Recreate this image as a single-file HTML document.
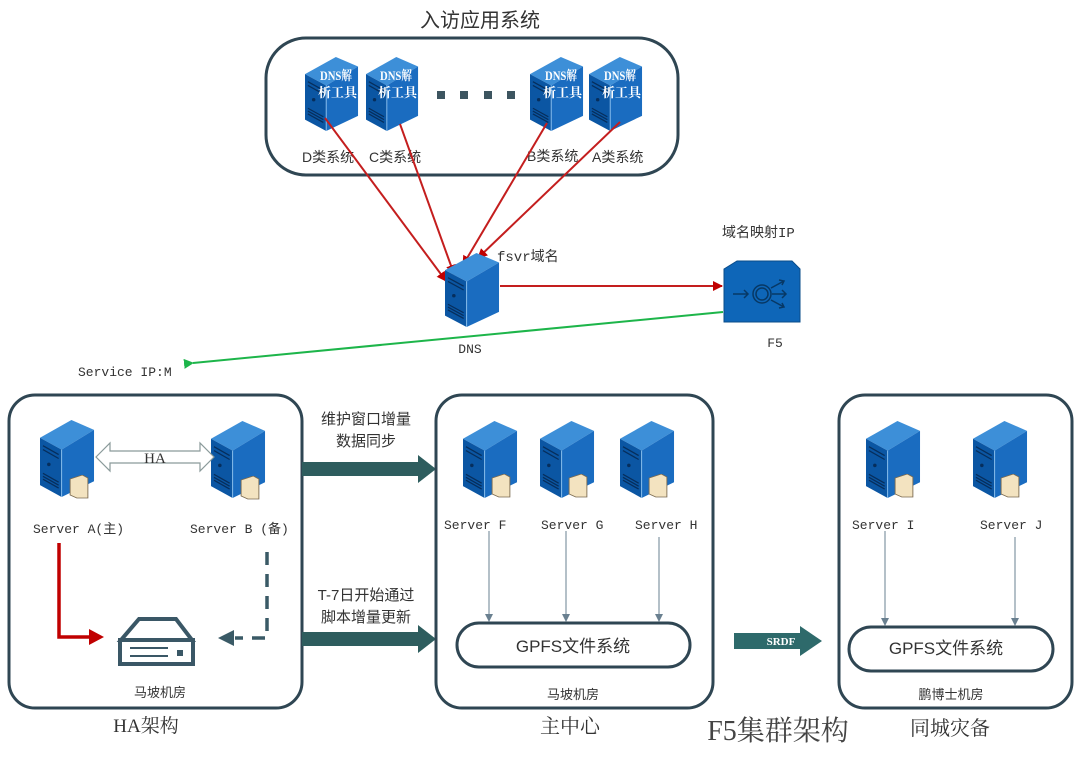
<!DOCTYPE html>
<html><head><meta charset="utf-8"><style>
body{margin:0;background:#fff;}
svg text{font-family:"Liberation Serif","Noto Serif CJK SC",serif;fill:#333;}
svg text.m{font-family:"Liberation Mono","Noto Sans CJK SC",monospace;}
svg text.s{font-family:"Liberation Sans","Noto Sans CJK SC",sans-serif;}
svg text.w{fill:#fff;font-weight:bold;}
</style></head><body>
<svg width="1080" height="762" viewBox="0 0 1080 762" xmlns="http://www.w3.org/2000/svg">
<defs>
<symbol id="srv" viewBox="0 0 56 78" preserveAspectRatio="none">
<polygon points="0,18 32,0 55,10 22,30" fill="#3d8fd8"/>
<polygon points="0,18 22,30 22,78 0,66" fill="#0b56a3"/>
<polygon points="22,30 55,10 55,62 22,78" fill="#1a6cc0"/>
<line x1="22" y1="30" x2="22" y2="78" stroke="#8cc0ee" stroke-width="1"/>
<path d="M3,26 L19,35 M3,30 L19,39 M3,54 L19,63 M3,57 L19,66 M3,60 L19,69" stroke="#062e5c" stroke-width="1.3"/>
<circle cx="9" cy="45" r="1.8" fill="#062e5c"/>
</symbol>
<symbol id="doc" viewBox="0 0 18 24" preserveAspectRatio="none">
<polygon points="1,4 12,0 17,3 17,23 7,23 1,20" fill="#f3e3c0" stroke="#7a6a50" stroke-width="0.8"/>
</symbol>
<marker id="ar" markerWidth="10" markerHeight="10" refX="9" refY="5" orient="auto" markerUnits="userSpaceOnUse"><path d="M0,0 L10,5 L0,10 Z" fill="#c00000"/></marker>
<marker id="ag" markerWidth="10" markerHeight="10" refX="1" refY="5" orient="auto" markerUnits="userSpaceOnUse"><path d="M10,0 L0,5 L10,10 Z" fill="#1db54a"/></marker>
<marker id="ab" markerWidth="8" markerHeight="8" refX="7" refY="4" orient="auto" markerUnits="userSpaceOnUse"><path d="M0,0 L8,4 L0,8 Z" fill="#6a8090"/></marker>
</defs>

<text x="480" y="27" font-size="20" text-anchor="middle" class="s">入访应用系统</text>
<rect x="266" y="38" width="412" height="137" rx="40" fill="none" stroke="#2f4653" stroke-width="3"/>

<use href="#srv" x="305" y="57" width="54" height="74"/>
<use href="#srv" x="366" y="57" width="53" height="74"/>
<use href="#srv" x="530" y="57" width="54" height="74"/>
<use href="#srv" x="589" y="57" width="54" height="74"/>
<g font-size="13">
<text x="320" y="80" class="w" textLength="32" lengthAdjust="spacingAndGlyphs">DNS解</text><text x="318" y="97" class="w">析工具</text>
<text x="380" y="80" class="w" textLength="32" lengthAdjust="spacingAndGlyphs">DNS解</text><text x="378" y="97" class="w">析工具</text>
<text x="545" y="80" class="w" textLength="32" lengthAdjust="spacingAndGlyphs">DNS解</text><text x="543" y="97" class="w">析工具</text>
<text x="604" y="80" class="w" textLength="32" lengthAdjust="spacingAndGlyphs">DNS解</text><text x="602" y="97" class="w">析工具</text>
</g>
<g fill="#3d5560"><rect x="437" y="91" width="8" height="8"/><rect x="460" y="91" width="8" height="8"/><rect x="484" y="91" width="8" height="8"/><rect x="507" y="91" width="8" height="8"/></g>
<g font-size="14">
<text x="302" y="162" class="s">D类系统</text><text x="369" y="162" class="s">C类系统</text>
<text x="527" y="161" class="s">B类系统</text><text x="592" y="162" class="s">A类系统</text>
</g>

<g stroke="#c41e1e" stroke-width="2" fill="none">
<line x1="325" y1="118" x2="446" y2="281" marker-end="url(#ar)"/>
<line x1="400" y1="124" x2="454" y2="274" marker-end="url(#ar)"/>
<line x1="547" y1="123" x2="463" y2="265" marker-end="url(#ar)"/>
<line x1="620" y1="122" x2="478" y2="258" marker-end="url(#ar)"/>
<line x1="500" y1="286" x2="722" y2="286" marker-end="url(#ar)"/>
</g>
<use href="#srv" x="445" y="253" width="55" height="74"/>
<text x="497" y="261" font-size="14" class="m">fsvr域名</text>
<text x="470" y="353" font-size="13" text-anchor="middle" class="m">DNS</text>

<text x="722" y="237" font-size="14" class="m">域名映射IP</text>
<polygon points="724,269 737,261 792,261 800,269 800,322 724,322" fill="#0e66b8" stroke="#0a4c8a"/>
<g stroke="#073865" stroke-width="1.5" fill="none">
<circle cx="762" cy="294" r="6"/><circle cx="762" cy="294" r="9"/>
<path d="M733,294 L748,294 M744,290 L748,294 L744,298"/>
<path d="M772,294 L786,294 M782,290 L786,294 L782,298"/>
<path d="M771,288 L784,281 M779,280 L784,281 L782,285"/>
<path d="M771,300 L784,307 M779,308 L784,307 L782,303"/>
</g>
<text x="775" y="347" font-size="13" text-anchor="middle" class="m">F5</text>

<line x1="723" y1="312" x2="193" y2="363" stroke="#1db54a" stroke-width="2" marker-end="url(#ag)"/>
<text x="78" y="376" font-size="13" class="m">Service IP:M</text>

<!-- HA box -->
<rect x="9" y="395" width="293" height="313" rx="26" fill="none" stroke="#2f4653" stroke-width="3"/>
<use href="#srv" x="40" y="420" width="55" height="77"/>
<use href="#doc" x="69" y="475" width="20" height="24"/>
<use href="#srv" x="211" y="421" width="55" height="77"/>
<use href="#doc" x="240" y="476" width="20" height="24"/>
<path d="M96,457 L110,443 L110,451 L200,451 L200,443 L214,457 L200,471 L200,463 L110,463 L110,471 Z" fill="#fff" stroke="#8a9a9a" stroke-width="1.2"/>
<text x="155" y="463" font-size="15" text-anchor="middle">HA</text>
<text x="33" y="533" font-size="13" class="m">Server A(主)</text>
<text x="190" y="533" font-size="13" class="m">Server B (备)</text>
<path d="M59,543 L59,637 L90,637" stroke="#c00000" stroke-width="3.5" fill="none"/>
<polygon points="89,629 104,637 89,645" fill="#c00000"/>
<path d="M267,552 L267,638 L235,638" stroke="#3a5a66" stroke-width="3.5" fill="none" stroke-dasharray="13,9"/>
<polygon points="234,630 218,638 234,646" fill="#3a5a66"/>
<path d="M121,640 L139,619 L176,619 L192,640 Z" fill="none" stroke="#3a5766" stroke-width="4"/>
<rect x="120" y="640" width="73" height="24" fill="none" stroke="#3a5766" stroke-width="4"/>
<rect x="130" y="647" width="38" height="2" fill="#3a5766"/><rect x="130" y="655" width="38" height="2" fill="#3a5766"/>
<rect x="177" y="650" width="6" height="6" fill="#3a5766"/>
<text x="160" y="697" font-size="13" text-anchor="middle" class="s">马坡机房</text>
<text x="146" y="732" font-size="19" text-anchor="middle">HA架构</text>

<!-- arrows -->
<text x="366" y="424" font-size="15" text-anchor="middle" class="s">维护窗口增量</text>
<text x="366" y="446" font-size="15" text-anchor="middle" class="s">数据同步</text>
<polygon points="302,462 418,462 418,455 436,469 418,483 418,476 302,476" fill="#2e5d5e"/>
<text x="366" y="600" font-size="15" text-anchor="middle" class="s">T-7日开始通过</text>
<text x="366" y="622" font-size="15" text-anchor="middle" class="s">脚本增量更新</text>
<polygon points="302,632 418,632 418,625 436,639 418,653 418,646 302,646" fill="#2e5d5e"/>

<!-- main center -->
<rect x="436" y="395" width="277" height="313" rx="26" fill="none" stroke="#2f4653" stroke-width="3"/>
<use href="#srv" x="463" y="421" width="55" height="77"/>
<use href="#doc" x="491" y="474" width="20" height="24"/>
<use href="#srv" x="540" y="421" width="55" height="77"/>
<use href="#doc" x="568" y="474" width="20" height="24"/>
<use href="#srv" x="620" y="421" width="55" height="77"/>
<use href="#doc" x="648" y="474" width="20" height="24"/>
<text x="444" y="529" font-size="13" class="m">Server F</text><text x="541" y="529" font-size="13" class="m">Server G</text><text x="635" y="529" font-size="13" class="m">Server H</text>
<g stroke="#6a8090" stroke-width="1" marker-end="url(#ab)">
<line x1="489" y1="531" x2="489" y2="621"/><line x1="566" y1="531" x2="566" y2="621"/><line x1="659" y1="537" x2="659" y2="621"/>
</g>
<rect x="457" y="623" width="233" height="44" rx="22" fill="#fff" stroke="#2f4653" stroke-width="3"/>
<text x="573" y="652" font-size="17" text-anchor="middle" class="s">GPFS文件系统</text>
<text x="573" y="699" font-size="13" text-anchor="middle" class="s">马坡机房</text>
<text x="570" y="733" font-size="20" text-anchor="middle">主中心</text>

<polygon points="734,633 800,633 800,626 822,641 800,656 800,649 734,649" fill="#2e6a6b"/>
<text x="781" y="645" font-size="11" text-anchor="middle" class="w">SRDF</text>
<text x="778" y="740" font-size="28" text-anchor="middle" style="fill:#444">F5集群架构</text>

<!-- DR -->
<rect x="839" y="395" width="233" height="313" rx="26" fill="none" stroke="#2f4653" stroke-width="3"/>
<use href="#srv" x="866" y="421" width="55" height="77"/>
<use href="#doc" x="894" y="474" width="20" height="24"/>
<use href="#srv" x="973" y="421" width="55" height="77"/>
<use href="#doc" x="1000" y="474" width="20" height="24"/>
<text x="852" y="529" font-size="13" class="m">Server I</text><text x="980" y="529" font-size="13" class="m">Server J</text>
<g stroke="#6a8090" stroke-width="1" marker-end="url(#ab)">
<line x1="885" y1="531" x2="885" y2="625"/><line x1="1015" y1="537" x2="1015" y2="625"/>
</g>
<rect x="849" y="627" width="204" height="44" rx="22" fill="#fff" stroke="#2f4653" stroke-width="3"/>
<text x="946" y="654" font-size="17" text-anchor="middle" class="s">GPFS文件系统</text>
<text x="951" y="699" font-size="13" text-anchor="middle" class="s">鹏博士机房</text>
<text x="950" y="735" font-size="20" text-anchor="middle">同城灾备</text>
</svg>
</body></html>
